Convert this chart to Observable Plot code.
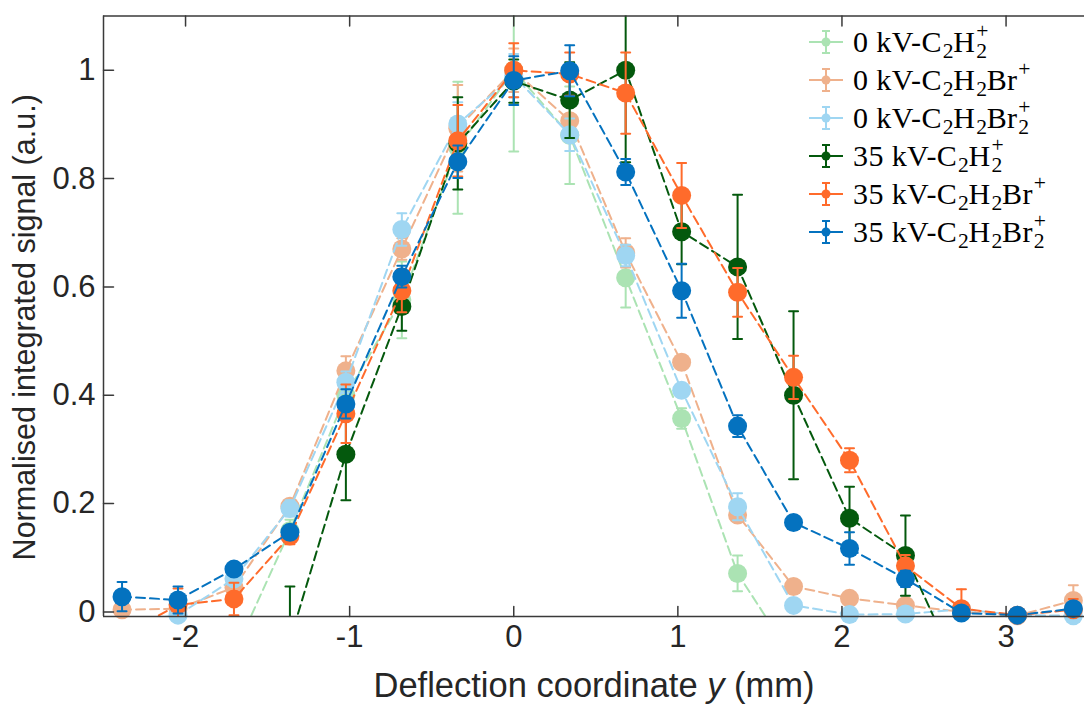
<!DOCTYPE html>
<html><head><meta charset="utf-8">
<script src="https://cdn.jsdelivr.net/npm/d3@7"></script>
<script src="https://cdn.jsdelivr.net/npm/@observablehq/plot@0.6"></script>
<style>
html,body{margin:0;padding:0;background:#fff;overflow:hidden}
#wrap{position:relative;width:1084px;height:704px}
#legend{position:absolute;left:805px;top:23px;font-family:"Liberation Serif",serif;font-size:30px;letter-spacing:0.4px;color:#000}
.row{display:flex;align-items:center;height:38px;white-space:nowrap}
.row svg{flex:none;margin-right:4px}
.ss{position:relative;display:inline-block;height:0}
.ss>span{position:absolute;left:0.04em;font-size:0.72em;line-height:1}
.ss>.sp{bottom:0.42em}
.ss>.sb{top:-0.52em}
</style></head><body><div id="wrap"><div id="legend"></div></div>
<script>
// x positions (mm) of the measurement points
const xPos = [-2.387, -2.046, -1.705, -1.364, -1.023, -0.682, -0.341, 0, 0.341, 0.682, 1.023, 1.364, 1.705, 2.046, 2.387, 2.728, 3.069, 3.410];

const seriesNames = ["0 kV-C_2H_2^+", "0 kV-C_2H_2Br^+", "0 kV-C_2H_2Br_2^+", "35 kV-C_2H_2^+", "35 kV-C_2H_2Br^+", "35 kV-C_2H_2Br_2^+"];
const seriesColors = ["#abe3b3", "#efb18c", "#9fd6f2", "#04590d", "#ff6b2b", "#0472bf"];

// 0 kV C2H2+
const valsA = [null, null, -0.077, 0.15, 0.40, 0.576, 0.857, 1.0, 0.88, 0.617, 0.357, 0.071, -0.088, null, null, null, null, null];
const errA  = [null, null, 0.03, 0.02, 0.03, 0.071, 0.122, 0.15, 0.09, 0.055, 0.019, 0.033, 0.03, null, null, null, null, null];
// 0 kV C2H2Br+
const valsB = [0.004, 0.006, 0.045, 0.195, 0.445, 0.67, 0.893, 1.0, 0.907, 0.663, 0.461, 0.179, 0.047, 0.025, 0.012, 0.0, -0.007, 0.021];
const errB  = [0.01, 0.01, 0.01, 0.012, 0.027, 0.02, 0.08, 0.04, 0.03, 0.027, 0.012, 0.012, 0.012, 0.01, 0.01, 0.01, 0.006, 0.028];
// 0 kV C2H2Br2+
const valsC = [-0.02, -0.006, 0.061, 0.191, 0.424, 0.706, 0.901, 0.99, 0.881, 0.658, 0.409, 0.194, 0.012, -0.005, -0.004, 0.005, -0.006, -0.007];
const errC  = [0.01, 0.012, 0.012, 0.015, 0.02, 0.03, 0.04, 0.04, 0.03, 0.02, 0.012, 0.025, 0.01, 0.01, 0.008, 0.01, 0.008, 0.008];
// 35 kV C2H2+
const valsD = [null, null, null, -0.053, 0.291, 0.564, 0.865, 0.98, 0.945, 1.0, 0.702, 0.637, 0.40, 0.173, 0.104, -0.12, null, null];
const errD  = [null, null, null, 0.1, 0.085, 0.045, 0.085, 0.04, 0.07, 0.17, 0.06, 0.133, 0.155, 0.058, 0.074, 0.05, null, null];
// 35 kV C2H2Br+
const valsE = [-0.044, 0.013, 0.024, 0.14, 0.366, 0.593, 0.87, 1.0, 0.993, 0.958, 0.769, 0.59, 0.433, 0.28, 0.085, 0.006, -0.006, 0.004];
const errE  = [0.03, 0.03, 0.03, 0.015, 0.054, 0.04, 0.066, 0.05, 0.04, 0.075, 0.06, 0.045, 0.04, 0.022, 0.02, 0.036, 0.01, 0.02];
// 35 kV C2H2Br2+
const valsF = [0.028, 0.022, 0.079, 0.147, 0.384, 0.619, 0.831, 0.981, 0.999, 0.812, 0.593, 0.343, 0.165, 0.117, 0.061, -0.002, -0.006, 0.006];
const errF  = [0.027, 0.025, 0.012, 0.012, 0.027, 0.02, 0.03, 0.045, 0.047, 0.024, 0.05, 0.02, 0.01, 0.03, 0.015, 0.012, 0.009, 0.01];

const xTicks = [-2, -1, 0, 1, 2, 3];
const xTickLabels = ["-2", "-1", "0", "1", "2", "3"];
const yTicks = [0, 0.2, 0.4, 0.6, 0.8, 1];
const yTickLabels = ["0", "0.2", "0.4", "0.6", "0.8", "1"];
const xTitle = "Deflection coordinate y (mm)";
const yTitle = "Normalised integrated signal (a.u.)";

const xDomain = [-2.5, 3.478];
const yDomain = [-0.0085, 1.1];

const allVals = [valsA, valsB, valsC, valsD, valsE, valsF];
const allErrs = [errA, errB, errC, errD, errE, errF];

const rows = [];
allVals.forEach((vals, s) => vals.forEach((v, i) => {
  if (v != null) rows.push({s, x: xPos[i], y: v, e: allErrs[s][i]});
}));

const bar = {draw(ctx, l) { ctx.moveTo(0, 0); ctx.lineTo(0, -l); }};
const axisColor = "#3a3a3a";

const marks = [];
seriesColors.forEach((color, s) => {
  const d = rows.filter(r => r.s === s);
  marks.push(Plot.line(d, {x: "x", y: "y", stroke: color, strokeWidth: 2, strokeDasharray: "9,5", clip: true}));
  marks.push(Plot.ruleX(d, {x: "x", y1: r => r.y - r.e, y2: r => r.y + r.e, stroke: color, strokeWidth: 2, clip: true}));
  marks.push(Plot.vector(d, {x: "x", y: r => r.y + r.e, length: 9, rotate: 90, anchor: "middle", shape: bar, stroke: color, strokeWidth: 2, clip: true}));
  marks.push(Plot.vector(d, {x: "x", y: r => r.y - r.e, length: 9, rotate: 90, anchor: "middle", shape: bar, stroke: color, strokeWidth: 2, clip: true}));
  marks.push(Plot.dot(d.filter(r => r.y >= yDomain[0] && r.y <= yDomain[1]), {x: "x", y: "y", r: 9.5, fill: color, stroke: null}));
});

// box lines and inward ticks
marks.push(Plot.ruleY([yDomain[0]], {stroke: axisColor, strokeWidth: 1.5}));
marks.push(Plot.ruleY([yDomain[1]], {stroke: axisColor, strokeWidth: 1.5}));
marks.push(Plot.ruleX([xDomain[0]], {stroke: axisColor, strokeWidth: 1.5}));
marks.push(Plot.vector(xTicks, {x: d => d, y: () => yDomain[0], length: 10, rotate: 0, anchor: "start", shape: bar, stroke: axisColor, strokeWidth: 1.5}));
marks.push(Plot.vector(xTicks, {x: d => d, y: () => yDomain[1], length: 10, rotate: 180, anchor: "start", shape: bar, stroke: axisColor, strokeWidth: 1.5}));
marks.push(Plot.vector(yTicks, {x: () => xDomain[0], y: d => d, length: 10, rotate: 90, anchor: "start", shape: bar, stroke: axisColor, strokeWidth: 1.5}));

marks.push(Plot.axisX({ticks: xTicks, tickSize: 0, tickPadding: 8, tickFormat: d => xTickLabels[xTicks.indexOf(d)], fontSize: 31, label: null}));
marks.push(Plot.axisY({ticks: yTicks, tickSize: 0, tickPadding: 8, tickFormat: d => yTickLabels[yTicks.indexOf(d)], fontSize: 31, label: null}));
marks.push(Plot.text([xTitle], {frameAnchor: "bottom", textAnchor: "middle", lineAnchor: "middle", dy: 69, fontSize: 34.5, text: d => d, fill: "#262626"}));
marks.push(Plot.text([yTitle], {frameAnchor: "left", textAnchor: "middle", lineAnchor: "middle", rotate: -90, dx: -78, dy: 11, fontSize: 30.5, text: d => d, fill: "#262626"}));

const chart = Plot.plot({
  width: 1084,
  height: 704,
  marginLeft: 103,
  marginRight: 0,
  marginTop: 15.6,
  marginBottom: 88,
  x: {domain: xDomain},
  y: {domain: yDomain},
  style: {fontFamily: "'Liberation Sans', Arial, sans-serif", color: "#262626", background: "#fff"},
  marks
});
document.getElementById("wrap").prepend(chart);

// italic y in the x-axis title
chart.querySelectorAll("text").forEach(t => {
  if (t.textContent === xTitle) {
    const [a, b] = xTitle.split(" y ");
    t.textContent = "";
    const ns = "http://www.w3.org/2000/svg";
    const t1 = document.createElementNS(ns, "tspan"); t1.textContent = a + " ";
    const t2 = document.createElementNS(ns, "tspan"); t2.textContent = "y"; t2.setAttribute("font-style", "italic");
    const t3 = document.createElementNS(ns, "tspan"); t3.textContent = " " + b;
    t.append(t1, t2, t3);
  }
});

// legend
function richLabel(s) {
  return s.replace(/_(\w)\^(\S)/g, '<span class="ss" style="width:0.6em"><span class="sp">$2</span><span class="sb">$1</span></span>')
          .replace(/_(\w)/g, '<span class="ss" style="width:0.38em"><span class="sb">$1</span></span>')
          .replace(/\^(\S)/g, '<span class="ss" style="width:0.6em"><span class="sp">$1</span></span>');
}
const legend = document.getElementById("legend");
seriesNames.forEach((name, s) => {
  const c = seriesColors[s];
  const row = document.createElement("div");
  row.className = "row";
  row.innerHTML = `<svg width="44" height="30" viewBox="0 0 44 30">
    <line x1="4" x2="38" y1="15" y2="15" stroke="${c}" stroke-width="2"/>
    <line x1="21" x2="21" y1="4" y2="26" stroke="${c}" stroke-width="2"/>
    <line x1="17" x2="25" y1="4" y2="4" stroke="${c}" stroke-width="2"/>
    <line x1="17" x2="25" y1="26" y2="26" stroke="${c}" stroke-width="2"/>
    <circle cx="21" cy="15" r="4.5" fill="${c}"/></svg><span>${richLabel(name)}</span>`;
  legend.appendChild(row);
});
</script>
</body></html>
